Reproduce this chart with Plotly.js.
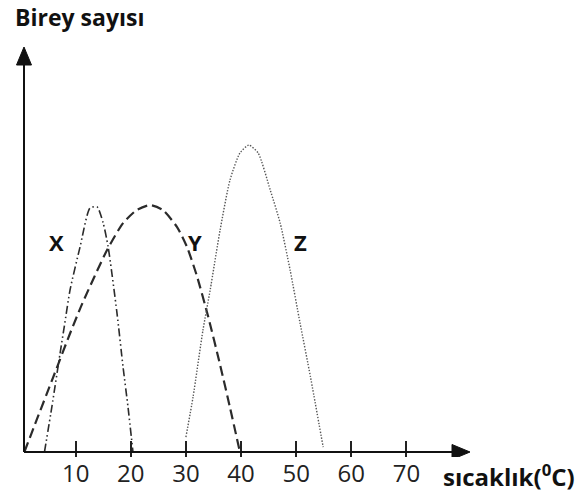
<!DOCTYPE html>
<html>
<head>
<meta charset="utf-8">
<script src="https://cdn.plot.ly/plotly-3.0.1.min.js"></script>
<style>
  html, body { margin: 0; padding: 0; background: #fff; }
  #chart { width: 579px; height: 494px; }
</style>
</head>
<body>
<div id="chart"></div>
<script>
// Temperature (°C) vs. number of individuals for three populations
const xTemp = [4.35, 5.71, 7.16, 8.07, 8.98, 10.8, 12.6, 13.9, 15.0, 15.9, 17.5, 18.6, 19.5, 20.4];
const xCount = [0, 15.0, 32.0, 42.5, 52.9, 67.0, 79.7, 80.1, 74.8, 67.0, 45.4, 27.8, 14.7, 0];

const yTemp = [0.7, 3.0, 5.9, 9.0, 11.2, 15.7, 18.6, 21.1, 23.5, 25.8, 28.4, 30.2, 32.0, 34.0, 36.2, 38.0, 39.8];
const yCount = [0, 10.8, 24.3, 38.8, 48.5, 66.0, 74.8, 79.1, 80.7, 79.1, 73.5, 67.0, 57.5, 44.5, 28.5, 14.5, 0];

const zTemp = [30.0, 31.3, 33.1, 34.4, 36.2, 38.0, 39.8, 41.4, 43.1, 45.3, 47.1, 48.9, 50.7, 52.6, 54.9];
const zCount = [4.9, 18.0, 39.9, 52.9, 72.5, 88.9, 97.7, 100.3, 97.7, 85.6, 74.8, 59.5, 42.2, 24.5, 1.6];

const tickVals = [10, 20, 30, 40, 50, 60, 70];
const tickText = ['10', '20', '30', '40', '50', '60', '70'];

const seriesNames = ['X', 'Y', 'Z'];

const traces = [
  {
    x: xTemp, y: xCount, name: seriesNames[0], mode: 'lines', type: 'scatter',
    line: { color: '#2b2b2b', width: 1.6, shape: 'spline', smoothing: 0.6,
            dash: '8px,3px,1.5px,3px,1.5px,3px' },
    hoverinfo: 'skip'
  },
  {
    x: yTemp, y: yCount, name: seriesNames[1], mode: 'lines', type: 'scatter',
    line: { color: '#2b2b2b', width: 2.2, shape: 'spline', smoothing: 0.6,
            dash: '10px,5px' },
    hoverinfo: 'skip'
  },
  {
    x: zTemp, y: zCount, name: seriesNames[2], mode: 'lines', type: 'scatter',
    line: { color: '#555', width: 1.4, shape: 'spline', smoothing: 0.6,
            dash: '1.4px,1.6px' },
    hoverinfo: 'skip'
  }
];

const labelFont = { family: 'Open Sans, sans-serif', size: 22, color: '#111' };
const axisInk = '#111';

const layout = {
  width: 579,
  height: 494,
  margin: { l: 24, r: 109, t: 47, b: 37, pad: 0 },
  paper_bgcolor: '#fff',
  plot_bgcolor: '#fff',
  showlegend: false,
  font: { family: 'Open Sans, sans-serif', color: '#222' },
  xaxis: {
    range: [0.635, 81.53],
    showgrid: false, zeroline: false, showline: false,
    tickmode: 'array', tickvals: tickVals, ticktext: tickText,
    ticks: 'inside', ticklen: 16, tickwidth: 2, tickcolor: '#222',
    tickfont: { family: 'Open Sans, sans-serif', size: 24, color: '#222' },
    fixedrange: true
  },
  yaxis: {
    range: [-1.634, 132.35],
    showgrid: false, zeroline: false, showline: false,
    showticklabels: false, ticks: '',
    fixedrange: true
  },
  shapes: [
    // horizontal axis line and arrow head
    { type: 'line', xref: 'paper', yref: 'y', x0: 0, x1: 0.98, y0: 0, y1: 0,
      line: { color: axisInk, width: 2 } },
    { type: 'path', xref: 'paper', yref: 'y', xsizemode: 'pixel', ysizemode: 'pixel',
      xanchor: 1, yanchor: 0, path: 'M0,0 L-18,7.5 L-18,-7.5 Z',
      fillcolor: axisInk, line: { color: axisInk, width: 1 } },
    // vertical axis line and arrow head
    { type: 'line', xref: 'paper', yref: 'paper', x0: 0, x1: 0, y0: 0.0122, y1: 0.98,
      line: { color: axisInk, width: 2 } },
    { type: 'path', xref: 'paper', yref: 'paper', xsizemode: 'pixel', ysizemode: 'pixel',
      xanchor: 0, yanchor: 1, path: 'M0,0 L-7.5,-18 L7.5,-18 Z',
      fillcolor: axisInk, line: { color: axisInk, width: 1 } }
  ],
  annotations: [
    // axis titles
    { xref: 'paper', yref: 'paper', x: -0.025, y: 1.072, xanchor: 'left', yanchor: 'middle',
      text: '<b>Birey sayısı</b>', showarrow: false,
      font: { family: 'Open Sans, sans-serif', size: 23, color: '#111' } },
    { xref: 'paper', yref: 'paper', x: 0.935, y: -0.044, xanchor: 'left', yanchor: 'middle',
      text: '<b>sıcaklık(<sup>0</sup>C)</b>', showarrow: false,
      font: { family: 'Open Sans, sans-serif', size: 24, color: '#111' } },
    // curve labels
    { xref: 'x', yref: 'y', x: 6.6, y: 68.6, text: '<b>X</b>', showarrow: false, font: labelFont },
    { xref: 'x', yref: 'y', x: 31.7, y: 68.6, text: '<b>Y</b>', showarrow: false, font: labelFont },
    { xref: 'x', yref: 'y', x: 50.7, y: 68.6, text: '<b>Z</b>', showarrow: false, font: labelFont }
  ]
};

Plotly.newPlot('chart', traces, layout, { displayModeBar: false, staticPlot: true });
</script>
</body>
</html>
